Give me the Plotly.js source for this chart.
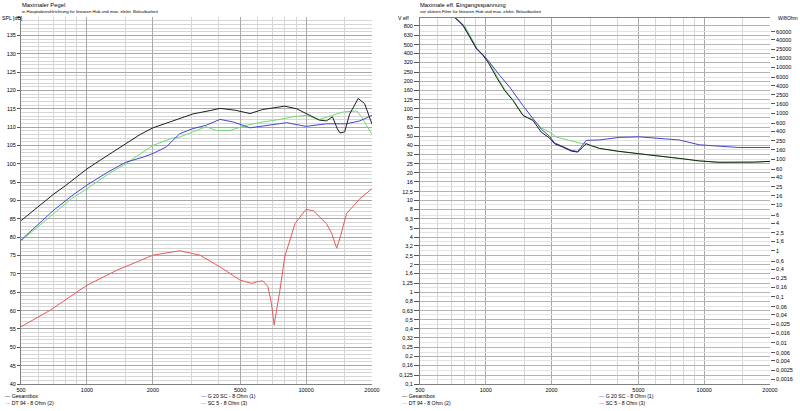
<!DOCTYPE html>
<html><head><meta charset="utf-8">
<script src="https://cdn.plot.ly/plotly-3.0.1.min.js"></script>
<style>html,body{margin:0;padding:0;background:#fff;}#chart{width:800px;height:411px;}</style>
</head><body><div id="chart"></div>
<script>
// ---------- Left panel: Maximaler Pegel (SPL dB) ----------
const gesamtF = [500, 600, 700, 800, 900, 1000, 1150, 1450, 1750, 2000, 2450, 2650, 3050, 3650, 4050, 4750, 5550, 6350, 8000, 9050, 10000, 11500, 12400, 13200, 13900, 14300, 15000, 15800, 17300, 18500, 20000];
const gesamtDb = [84.5, 88.3, 91.6, 94.1, 96.4, 98.6, 101.0, 105.0, 108.0, 109.8, 111.6, 112.4, 113.6, 114.5, 115.1, 114.6, 113.7, 114.8, 115.7, 115.0, 113.7, 111.9, 111.7, 112.8, 109.5, 108.4, 108.7, 113.5, 117.8, 116.4, 110.8];

const dtF = [500, 600, 700, 850, 1000, 1250, 1500, 2000, 2450, 2650, 3050, 3500, 3900, 4500, 5350, 6350, 7600, 8700, 10000, 11500, 13200, 14700, 17000, 17900, 20000];
const dtDb = [79.0, 82.9, 86.4, 90.5, 93.2, 97.2, 100.0, 105.0, 107.0, 107.3, 108.7, 110.1, 109.1, 109.1, 110.5, 111.4, 112.1, 112.8, 113.2, 112.1, 113.2, 114.1, 114.4, 112.8, 108.0];

const g20F = [500, 600, 700, 850, 1000, 1250, 1500, 1800, 2000, 2300, 2650, 3050, 3500, 4050, 4650, 5550, 6600, 8150, 10000, 12400, 15300, 17600, 20000];
const g20Db = [79.2, 83.5, 87.2, 91.2, 94.2, 97.8, 100.4, 101.8, 102.8, 104.6, 108.2, 109.6, 110.5, 112.1, 111.4, 109.8, 110.5, 111.2, 110.2, 110.9, 110.9, 111.7, 113.2];

const sc5F = [500, 680, 1000, 1370, 2000, 2650, 3280, 4050, 5000, 5650, 6000, 6350, 6700, 6950, 7150, 7350, 7600, 8000, 8900, 10000, 10800, 12400, 13100, 13800, 14400, 15300, 17600, 20000];
const sc5Db = [55.6, 60.1, 66.9, 71.0, 75.1, 76.3, 75.1, 71.9, 68.3, 67.4, 67.9, 68.1, 66.5, 62.0, 56.1, 60.0, 65.6, 74.7, 83.7, 87.6, 87.2, 83.7, 81.0, 77.0, 80.5, 86.4, 90.5, 93.2];

// ---------- Right panel: Maximale eff. Eingangsspannung (V eff) ----------
const gesamtVF = [620, 709, 788, 846, 907, 972, 1025, 1119, 1221, 1332, 1480, 1644, 1795, 1958, 2064, 2252, 2459, 2636, 2780, 2880, 3000, 3310, 4000, 5040, 6200, 7670, 9500, 11670, 14400, 17000, 20000];
const gesamtV = [1400, 1020, 805, 601, 449, 380, 321, 221, 158, 123, 84.5, 74.6, 55.6, 48.0, 41.6, 38.2, 34.6, 33.7, 38.2, 41.6, 40.0, 37.0, 34.5, 32.6, 30.5, 28.8, 27.0, 26.1, 25.9, 26.2, 26.7];

const dtVF = [630, 715, 800, 855, 915, 980, 1040, 1130, 1230, 1340, 1490, 1644, 1795, 1958, 2101, 2417, 2778, 2880, 3000, 3310, 4000, 5040, 6200, 7670, 9500, 11670, 14400, 17000, 20000];
const dtV = [1400, 1020, 805, 601, 449, 380, 321, 221, 158, 123, 84.5, 76.0, 62.0, 55.6, 49.1, 45.2, 41.6, 41.6, 40.0, 37.0, 34.5, 32.6, 30.5, 28.8, 27.0, 26.1, 25.9, 26.2, 26.7];

const g20VF = [620, 709, 788, 846, 907, 972, 1025, 1158, 1287, 1480, 1644, 1795, 1958, 2064, 2252, 2459, 2636, 2780, 2880, 3310, 4080, 5040, 6220, 7670, 9470, 11670, 14400, 20000];
const g20V = [1400, 1030, 810, 610, 455, 385, 335, 231, 172, 108, 77.8, 60.0, 50.0, 42.5, 38.8, 35.2, 34.2, 40.0, 45.2, 45.7, 48.7, 49.4, 47.2, 45.7, 40.5, 38.9, 37.8, 37.8];

const sc5VF = [500, 20000];
const sc5V = [1000, 1000];

// ---------- Tick labels ----------
const freqMajor = [500, 1000, 2000, 5000, 10000, 20000];
const freqMajorText = ['500', '1000', '2000', '5000', '10000', '20000'];
const freqMinor = [600, 700, 800, 900, 1500, 3000, 4000, 6000, 7000, 8000, 9000, 15000];

const splTicks = [40, 45, 50, 55, 60, 65, 70, 75, 80, 85, 90, 95, 100, 105, 110, 115, 120, 125, 130, 135, 140];
const splText = ['40','45','50','55','60','65','70','75','80','85','90','95','100','105','110','115','120','125','130','135',''];

const voltTicks = [0.1,0.125,0.16,0.2,0.25,0.32,0.4,0.5,0.63,0.8,1,1.25,1.6,2,2.5,3.2,4,5,6.3,8,10,12.5,16,20,25,32,40,50,63,80,100,125,160,200,250,320,400,500,630,800];
const voltText = ['0,1','0,125','0,16','0,2','0,25','0,32','0,4','0,5','0,63','0,8','1','1,25','1,6','2','2,5','3,2','4','5','6,3','8','10','12,5','16','20','25','32','40','50','63','80','100','125','160','200','250','320','400','500','630','800'];

const wattTicks = [0.0016,0.0025,0.004,0.006,0.01,0.016,0.025,0.04,0.06,0.1,0.16,0.25,0.4,0.6,1,1.6,2.5,4,6,10,16,25,40,60,100,160,250,400,600,1000,1600,2500,4000,6000,10000,16000,25000,40000,60000];
const wattText = ['0,0016','0,0025','0,004','0,006','0,01','0,016','0,025','0,04','0,06','0,1','0,16','0,25','0,4','0,6','1','1,6','2,5','4','6','10','16','25','40','60','100','160','250','400','600','1000','1600','2500','4000','6000','10000','16000','25000','40000','60000'];

const names = {gesamt: 'Gesamtbox', dt: 'DT 94 - 8 Ohm (2)', g20: 'G 20 SC - 8 Ohm (1)', sc5: 'SC 5 - 8 Ohm (3)'};
const colors = {gesamt: '#1e1e1e', dt: '#6fdc6f', g20: '#4646d2', sc5: '#e65a5a'};

// ---------- Traces ----------
function tr(x, y, key, xa, ya, w) {
  return {x: x, y: y, name: names[key], type: 'scatter', mode: 'lines', xaxis: xa, yaxis: ya,
          line: {color: colors[key], width: w || 1}, hoverinfo: 'skip', showlegend: false};
}
const data = [
  tr(dtF, dtDb, 'dt', 'x', 'y'),
  tr(g20F, g20Db, 'g20', 'x', 'y'),
  tr(sc5F, sc5Db, 'sc5', 'x', 'y'),
  tr(gesamtF, gesamtDb, 'gesamt', 'x', 'y'),
  tr(dtVF, dtV, 'dt', 'x2', 'y3'),
  tr(g20VF, g20V, 'g20', 'x2', 'y3'),
  tr(gesamtVF, gesamtV, 'gesamt', 'x2', 'y3'),
  tr(sc5VF, sc5V, 'sc5', 'x2', 'y3', 2),
  {x: [], y: [], type: 'scatter', mode: 'lines', xaxis: 'x2', yaxis: 'y4', showlegend: false, hoverinfo: 'skip'}
];

// ---------- Layout ----------
const W = 800, H = 411;
const yDom = [1 - 384 / H, 1 - 17 / H];
const tickFont = {family: 'Liberation Sans, Arial, sans-serif', size: 5.5, color: '#000'};
const majGrid = '#a8a8a8', minGrid = '#d6d6d6';

function xAxis(dom, anchor) {
  return {type: 'log', domain: dom, anchor: anchor, range: [Math.log10(500), Math.log10(20000)],
    tickmode: 'array', tickvals: freqMajor, ticktext: freqMajorText, ticks: '', tickfont: tickFont,
    showgrid: true, gridcolor: majGrid, gridwidth: 1, zeroline: false, showline: true, linecolor: '#808080', linewidth: 1,
    minor: {tickmode: 'array', tickvals: freqMinor, showgrid: true, gridcolor: minGrid, gridwidth: 1, ticks: ''},
    fixedrange: true};
}

const layout = {
  width: W, height: H, margin: {l: 0, r: 0, t: 0, b: 0}, autosize: false,
  paper_bgcolor: '#fff', plot_bgcolor: '#fff', showlegend: false,
  font: {family: 'Liberation Sans, Arial, sans-serif', size: 5.5, color: '#000'},
  xaxis: xAxis([21 / W, 372 / W], 'y'),
  yaxis: {domain: yDom, anchor: 'x', range: [40, 140], tickmode: 'array', tickvals: splTicks, ticktext: splText,
    ticks: 'outside', ticklen: 3, tickcolor: '#555', tickfont: tickFont,
    showgrid: true, gridcolor: majGrid, zeroline: false, showline: true, linecolor: '#808080',
    minor: {dtick: 1, showgrid: true, gridcolor: minGrid, ticks: ''}, fixedrange: true},
  xaxis2: xAxis([420 / W, 770 / W], 'y3'),
  yaxis3: {type: 'log', domain: yDom, anchor: 'x2', range: [-1, 3], tickmode: 'array', tickvals: voltTicks, ticktext: voltText,
    ticks: 'outside', ticklen: 5, tickcolor: '#555', tickfont: tickFont,
    showgrid: true, gridcolor: '#b4b4b4', zeroline: false, showline: true, linecolor: '#808080', fixedrange: true},
  yaxis4: {type: 'log', overlaying: 'y3', side: 'right', anchor: 'x2',
    range: [Math.log10(0.00125), Math.log10(125000)], tickmode: 'array', tickvals: wattTicks, ticktext: wattText,
    ticks: 'outside', ticklen: 4, tickcolor: '#555', tickfont: tickFont,
    showgrid: true, gridcolor: '#e2e2e2', zeroline: false, showline: false, fixedrange: true},
  annotations: []
};

function ann(text, x, y, size, extra) {
  return Object.assign({text: text, x: x / W, y: 1 - y / H, xref: 'paper', yref: 'paper', xanchor: 'left', yanchor: 'middle',
    showarrow: false, borderpad: 0, font: {family: 'Liberation Sans, Arial, sans-serif', size: size, color: '#000'}}, extra || {});
}
function legendItem(key, x, y) {
  return ann('<span style="color:' + colors[key] + '">\u2014</span> ' + names[key], x, y, 5.2);
}
layout.annotations.push(
  ann('Maximaler Pegel', 21, 5, 5.8),
  ann('in Hauptabstrahlrichtung für linearen Hub und max. elektr. Belastbarkeit', 21, 12, 4.3),
  ann('Maximale eff. Eingangsspannung', 419, 5, 5.8),
  ann('vor aktiven Filter für linearen Hub und max. elektr. Belastbarkeit', 419, 12, 4.3),
  ann('SPL [dB]', 1, 18, 5.2),
  ann('V eff', 397, 18, 5.2),
  ann('W/8Ohm', 777, 18, 5.0),
  legendItem('gesamt', 4, 395.5),
  legendItem('dt', 4, 402.5),
  legendItem('g20', 200, 395.5),
  legendItem('sc5', 200, 402.5),
  legendItem('gesamt', 401, 395.5),
  legendItem('dt', 401, 402.5),
  legendItem('g20', 598, 395.5),
  legendItem('sc5', 598, 402.5)
);

Plotly.newPlot('chart', data, layout, {staticPlot: true, displayModeBar: false});
</script></body></html>
